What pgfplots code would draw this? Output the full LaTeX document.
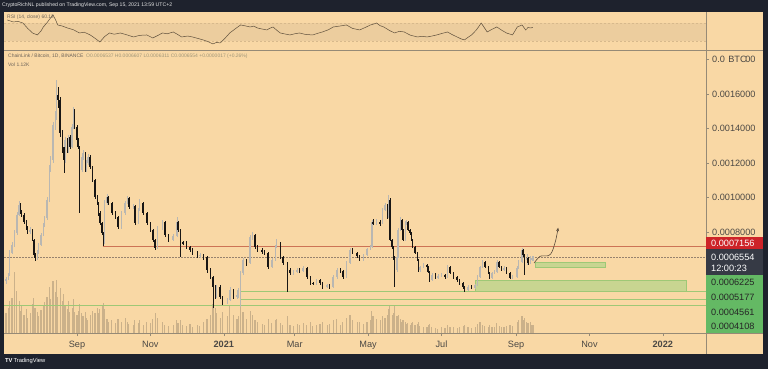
\documentclass[border=0pt]{standalone}
\usepackage{pgfplots}
\pgfplotsset{compat=1.18}
\usepackage{pgfplotstable}
\usepackage{fontspec}
\setmainfont{Liberation Sans}
\usetikzlibrary{arrows.meta}
\definecolor{tvdark}{RGB}{30,34,45}
\definecolor{bg}{RGB}{249,216,165}
\definecolor{band}{RGB}{236,205,158}
\definecolor{bandl}{RGB}{215,185,140}
\definecolor{sep}{RGB}{150,138,118}
\definecolor{upc}{RGB}{185,183,178}
\definecolor{dnc}{RGB}{25,22,20}
\definecolor{volc}{RGB}{203,177,138}
\definecolor{redl}{RGB}{205,115,85}
\definecolor{grl}{RGB}{158,200,118}
\definecolor{grf}{RGB}{200,213,145}
\definecolor{dashc}{RGB}{150,130,110}
\definecolor{lblred}{RGB}{205,35,40}
\definecolor{lbldark}{RGB}{54,58,69}
\definecolor{lblgreen}{RGB}{100,185,100}
\definecolor{labc}{RGB}{75,72,68}
\definecolor{rsic}{RGB}{95,80,60}
\definecolor{legc}{RGB}{110,100,90}
\definecolor{legv}{RGB}{160,150,120}
\definecolor{arrc}{RGB}{90,75,60}

\pgfplotstableread{
d o h l c v
-59 5.16 5.40 5.00 5.27 2.8
-57 5.27 5.62 5.20 5.51 3.5
-56 5.51 6.95 5.45 6.78 4.5
-54 6.78 7.40 6.70 7.25 5.0
-52 7.25 8.10 7.15 7.94 11.5
-50 7.94 9.15 7.85 8.99 6.0
-48 8.99 9.80 8.90 9.56 4.5
-47 9.56 9.70 9.05 9.16 3.2
-46 9.16 9.25 8.85 8.99 3.8
-44 8.99 9.10 8.45 8.58 2.6
-42 8.58 8.70 8.10 8.23 3.4
-41 8.23 8.35 7.90 8.00 2.2
-39 8.00 8.30 7.90 8.12 2.8
-37 8.12 8.20 7.45 7.54 4.2
-36 7.54 7.60 6.50 6.67 5.0
-35 6.67 6.80 6.30 6.49 3.6
-33 6.49 6.95 6.40 6.84 3.0
-32 6.84 7.35 6.75 7.25 2.4
-30 7.25 7.95 7.20 7.83 3.3
-28 7.83 8.55 7.75 8.41 3.8
-27 8.41 8.95 8.30 8.81 4.4
-25 8.81 10.00 8.70 9.86 5.2
-23 9.86 11.90 9.75 11.71 6.6
-22 11.71 12.40 11.50 12.17 4.8
-20 12.17 14.40 12.00 14.20 7.4
-18 14.20 15.00 13.90 14.67 5.8
-17 14.67 16.81 14.50 15.94 7.6
-16 15.94 16.40 15.20 15.65 5.2
-14 15.65 15.80 13.50 13.74 6.4
-12 13.74 13.90 12.60 12.93 4.6
-11 12.93 13.10 11.40 12.17 5.6
-10 12.17 13.50 12.00 13.33 4.0
-8 13.33 13.45 12.60 12.75 3.4
-7 12.75 13.65 12.60 13.51 4.6
-6 13.51 13.60 12.80 12.93 3.0
-4 12.93 14.25 12.85 14.09 3.6
-3 14.09 15.25 13.95 15.07 4.8
-2 15.07 15.15 13.95 14.09 3.0
0 14.09 14.20 13.20 13.33 2.6
1 13.33 13.45 12.80 12.93 3.2
2 12.93 13.00 9.10 11.59 4.2
4 11.59 12.50 11.45 12.35 2.8
5 12.35 12.75 12.20 12.58 2.4
7 12.58 12.65 11.45 11.59 3.0
8 11.59 12.15 11.50 12.00 2.2
9 12.00 12.50 11.90 12.35 1.8
11 12.35 12.45 11.65 11.77 2.6
13 11.77 11.85 10.90 11.01 3.2
15 11.01 11.10 9.90 10.03 2.8
17 10.03 10.15 9.55 9.68 3.6
18 9.68 9.75 8.95 9.10 2.8
19 9.10 9.20 8.40 8.52 3.4
21 8.52 8.60 7.80 7.94 3.8
22 7.94 8.00 7.16 7.36 4.3
23 7.36 9.85 7.30 9.68 3.4
25 9.68 10.20 9.55 10.03 2.0
26 10.03 10.10 9.55 9.68 1.6
29 9.68 9.75 9.00 9.10 1.8
32 9.10 9.20 8.75 8.87 1.4
34 8.87 8.95 8.15 8.29 2.0
37 8.29 9.20 8.20 9.10 1.6
40 9.10 9.80 9.00 9.68 2.2
42 9.68 10.10 9.60 9.97 1.5
43 9.97 10.05 9.35 9.45 1.3
47 9.45 9.65 9.35 9.50 1.2
48 9.50 9.55 8.40 8.52 1.9
51 8.52 9.40 8.45 9.27 1.4
52 9.27 9.90 9.20 9.68 1.8
55 9.68 9.75 9.00 9.10 1.2
58 9.10 9.15 8.40 8.52 1.6
61 8.52 8.60 8.00 8.12 1.4
63 8.12 8.20 7.40 7.54 2.0
65 7.54 7.60 6.95 7.07 2.9
67 7.07 8.35 7.00 8.23 2.2
71 8.23 8.70 8.10 8.58 1.5
73 8.58 8.65 7.70 7.83 1.2
76 7.83 7.90 7.40 7.54 1.0
80 7.54 7.90 7.45 7.77 1.2
83 7.77 8.87 7.70 8.58 1.8
84 8.58 8.65 8.00 8.12 1.4
86 8.12 8.20 6.55 7.42 1.9
88 7.42 7.50 7.25 7.36 1.1
91 7.36 7.45 7.00 7.13 1.0
94 7.13 7.20 6.85 6.96 1.3
96 6.96 7.05 6.65 6.78 0.9
100 6.78 6.90 6.50 6.61 1.2
102 6.61 6.80 6.50 6.67 1.0
105 6.67 6.75 6.40 6.55 1.5
108 6.55 6.60 5.65 5.80 2.0
111 5.80 5.90 5.25 5.39 2.6
113 5.39 5.45 3.59 4.81 4.2
115 4.81 4.90 4.10 4.23 3.6
116 4.23 4.95 4.15 4.81 2.8
119 4.81 4.90 4.10 4.23 2.2
121 4.23 4.30 3.75 3.88 3.0
125 3.88 4.15 3.80 4.06 2.4
127 4.06 4.80 4.00 4.64 4.0
130 4.64 4.70 4.10 4.23 2.6
133 4.23 4.45 4.12 4.30 2.0
134 4.30 4.75 4.20 4.64 2.4
136 4.64 5.75 3.65 5.62 4.4
138 5.62 6.50 5.50 6.38 3.0
141 6.38 6.45 6.05 6.20 2.0
144 6.20 7.85 6.15 7.71 3.2
146 7.71 8.00 7.55 7.83 2.6
148 7.83 7.90 7.00 7.13 1.8
150 7.13 7.25 6.85 6.96 1.6
154 6.96 7.05 6.70 6.84 1.3
156 6.84 6.95 6.65 6.78 1.2
159 6.78 6.85 5.85 5.97 2.0
162 5.97 6.50 5.90 6.38 1.4
165 6.38 7.25 6.30 7.13 1.8
166 7.13 7.60 7.05 7.36 2.0
169 7.36 7.40 6.45 6.55 1.4
171 6.55 6.60 6.10 6.20 1.2
175 6.20 6.25 4.52 5.80 2.4
177 5.80 5.90 5.50 5.62 1.2
180 5.62 5.80 5.50 5.68 1.0
183 5.68 5.90 5.60 5.80 1.3
185 5.80 5.90 5.65 5.75 1.1
188 5.75 6.05 5.70 5.91 1.4
191 5.91 5.95 5.30 5.39 1.2
194 5.39 5.45 4.95 5.04 1.5
196 5.04 5.12 4.92 5.00 1.0
199 5.00 5.30 4.95 5.22 1.2
202 5.22 5.28 4.95 5.04 1.3
204 5.04 5.10 4.72 4.81 1.5
208 4.81 5.00 4.75 4.93 1.1
210 4.93 4.98 4.72 4.81 1.3
213 4.81 5.48 4.75 5.39 1.8
216 5.39 5.90 5.30 5.80 2.0
219 5.80 5.90 5.65 5.74 1.2
221 5.74 5.80 5.30 5.39 1.5
224 5.39 6.30 5.35 6.20 2.2
227 6.20 7.05 6.15 6.96 2.6
229 6.96 7.05 6.70 6.78 1.8
233 6.78 6.85 6.50 6.61 1.5
235 6.61 6.65 6.30 6.38 1.6
238 6.38 6.75 6.30 6.67 1.3
241 6.67 7.10 6.60 7.02 1.6
244 7.02 7.25 6.95 7.13 1.8
245 7.13 8.70 7.10 8.58 3.2
246 8.58 8.75 8.40 8.52 2.4
249 8.52 8.75 8.40 8.58 2.0
252 8.58 8.70 8.35 8.50 1.8
254 8.50 9.40 8.45 9.27 2.4
256 9.27 9.70 9.20 9.56 2.2
258 9.56 9.60 8.75 8.87 2.6
259 8.87 10.14 8.80 9.86 3.4
260 9.86 9.95 7.45 7.54 4.0
262 7.54 7.60 7.00 7.13 2.6
263 7.13 7.20 6.40 6.55 2.8
264 6.55 6.60 4.81 5.80 3.8
266 5.80 6.65 5.70 6.55 2.4
267 6.55 8.25 6.50 8.12 2.6
269 8.12 8.85 8.05 8.70 2.0
270 8.70 8.75 8.00 8.12 1.6
271 8.12 8.20 7.45 7.54 1.8
273 7.54 8.65 7.50 8.52 1.6
274 8.52 8.70 8.40 8.58 1.3
275 8.58 8.65 8.05 8.12 1.4
277 8.12 8.20 7.85 7.94 1.2
278 7.94 8.00 7.45 7.54 1.4
279 7.54 7.60 7.05 7.13 1.5
281 7.13 7.20 6.70 6.78 1.2
283 6.78 6.85 6.30 6.38 1.3
284 6.38 6.45 5.70 5.80 1.6
285 5.80 6.05 5.70 5.97 1.0
288 5.97 6.20 5.90 6.09 0.8
291 6.09 6.15 5.85 5.97 0.9
292 5.97 6.00 5.60 5.68 1.1
293 5.68 5.75 5.10 5.22 1.3
295 5.22 5.60 5.15 5.51 0.9
298 5.51 5.60 5.30 5.39 0.7
300 5.39 5.55 5.30 5.45 0.6
303 5.45 5.60 5.38 5.51 0.8
306 5.51 5.58 5.30 5.39 0.7
308 5.39 6.09 5.35 5.97 1.2
310 5.97 6.00 5.55 5.62 0.9
313 5.62 5.68 5.30 5.39 0.8
316 5.39 5.45 5.12 5.22 0.7
318 5.22 5.28 4.95 5.04 0.8
321 5.04 5.10 4.72 4.81 1.0
322 4.81 4.85 4.55 4.64 1.1
325 4.64 4.90 4.58 4.81 0.9
328 4.81 4.90 4.68 4.75 0.7
331 4.75 5.00 4.70 4.93 0.9
333 4.93 5.48 4.88 5.39 1.3
335 5.39 6.05 5.35 5.97 1.5
337 5.97 6.40 5.90 6.26 1.2
339 6.26 6.30 5.90 5.97 1.0
342 5.97 6.00 5.55 5.62 0.9
343 5.62 5.68 5.25 5.33 1.1
345 5.33 5.70 5.28 5.62 0.8
347 5.62 5.80 5.55 5.68 0.9
349 5.68 6.40 5.62 6.26 1.4
351 6.26 6.30 5.90 5.97 1.0
353 5.97 6.02 5.72 5.80 0.9
355 5.80 6.00 5.75 5.91 0.8
357 5.91 5.95 5.55 5.62 1.0
360 5.62 5.68 5.25 5.33 1.2
362 5.33 5.48 5.28 5.39 1.0
366 5.39 6.00 5.35 5.91 1.6
367 5.91 6.35 5.85 6.26 1.8
370 6.26 7.07 6.20 6.96 2.4
371 6.96 7.02 6.55 6.67 1.9
372 6.67 6.72 5.51 6.38 2.2
374 6.38 6.75 6.10 6.45 1.6
375 6.45 6.55 6.10 6.20 1.4
377 6.20 6.60 6.15 6.38 1.5
378 6.38 6.62 6.30 6.49 1.2
379 6.537 6.607 6.311 6.554 1.12
}\candles

\pgfplotstableread{
d r
-58 76.7
-55 74.0
-53 72.2
-49 73.5
-45 70
-41 58.0
-37 47.8
-33 43.4
-30 52.0
-28 61.1
-25 70.5
-22 81.1
-20 87.8
-18 78.0
-16 65.6
-12 63.0
-8 58.9
-3 55.0
2 47.8
6 49.5
11 43.4
15 36.0
19 27.8
23 40.0
27 47.8
31 45.0
36 47.8
41 44.0
47 38.9
52 42.5
58 43.4
63 36.7
67 42.0
71 47.8
75 46.0
80 50
84 44.0
87 38.9
92 41.0
96 38.9
100 36.0
105 32.3
109 28.5
113 23.4
116 27.0
119 25.6
123 36.0
127 47.8
132 58.0
136 65.6
140 63.5
144 61.1
147 63.0
150 58.9
154 56.5
158 54.5
160 58.0
163 61.1
166 54.0
169 47.8
173 45.5
177 43.4
181 46.0
185 47.8
190 44.5
196 43.4
200 47.0
204 50
209 55.0
213 61.1
218 63.0
224 65.6
229 58.0
235 54.5
240 60.5
244 65.6
247 68.0
249 70
252 64.0
255 61.1
260 53.0
264 47.8
268 51.5
272 50
277 43.0
283 38.9
287 40.5
291 38.9
295 41.0
299 43.4
303 46.5
308 50
312 44.0
316 38.9
319 35.0
322 32.3
325 38.0
328 43.4
332 54.5
334 62.0
336 70
338 62.0
341 50
345 56.0
349 61.1
353 54.0
357 47.8
362 43.4
364 52.0
366 61.1
370 65.6
373 54.5
375 60.0
377 58.9
379 60.12
}\rsi

\newcommand{\axf}{\fontsize{9.2}{11}\selectfont}
\begin{document}
\begin{tikzpicture}
\useasboundingbox (0,0) rectangle (768bp,369bp);
\fill[tvdark] (0,0) rectangle (768bp,369bp);
\fill[bg] (4bp,15bp) rectangle (763bp,357bp);

% volume
\begin{axis}[at={(4bp,36bp)}, anchor=south west, scale only axis,
  width=702bp, height=60bp, xmin=-60.7, xmax=522.9, ymin=0, ymax=8.57,
  hide axis, clip=true]
\addplot[ycomb, draw=volc, line width=1.2bp, mark=none] table[x=d, y=v] {\candles};
\end{axis}

% price
\begin{axis}[at={(4bp,36bp)}, anchor=south west, scale only axis,
  width=702bp, height=283bp, xmin=-60.7, xmax=522.9, ymin=2.145, ymax=18.55,
  axis line style={draw=none},
  xtick={0,61,122,181,242,303,365,426,487},
  xticklabels={Sep,Nov,\textbf{2021},Mar,May,Jul,Sep,Nov,\textbf{2022}},
  ytick={8,10,12,14,16,18},
  yticklabels={0.0008000,0.0010000,0.0012000,0.0014000,0.0016000,{0.0\hphantom{0180}00}},
  xtick pos=left, ytick pos=right, yticklabel pos=right,
  tick align=outside, major tick length=3bp,
  tick style={draw=sep, line width=0.5bp},
  /pgf/number format/assume math mode=true,
  xticklabel style={font=\axf, text=labc, anchor=base, yshift=-11.5bp},
  yticklabel style={font=\axf, text=labc, anchor=west, inner sep=0pt, xshift=3bp},
  clip=true]
\fill[grf, draw=grl, line width=0.5bp] (axis cs:330.9,4.561) rectangle (axis cs:506.3,5.177);
\fill[grf, draw=grl, line width=0.5bp] (axis cs:380.7,5.935) rectangle (axis cs:438.9,6.225);
\addplot[grl, line width=0.6bp, mark=none] coordinates {(135.5,4.561) (522.9,4.561)};
\addplot[grl, line width=0.6bp, mark=none] coordinates {(135.5,4.108) (522.9,4.108)};
\addplot[grl, line width=0.6bp, mark=none] coordinates {(-60.7,3.77) (522.9,3.77)};
\addplot[redl, line width=0.7bp, mark=none] coordinates {(21.6,7.156) (522.9,7.156)};
\addplot[dashc, line width=0.5bp, dash pattern=on 1.5bp off 1.5bp, mark=none] coordinates {(-60.7,6.554) (522.9,6.554)};
% wicks
\addplot[draw=none, mark=none, restrict expr to domain={\thisrow{c}-\thisrow{o}}{0:100},
  error bars/.cd, y dir=both, y explicit, error mark=none,
  error bar style={draw=upc, line width=0.4bp}]
  table[x=d, y expr={(\thisrow{h}+\thisrow{l})/2}, y error expr={(\thisrow{h}-\thisrow{l})/2}] {\candles};
\addplot[draw=none, mark=none, restrict expr to domain={\thisrow{c}-\thisrow{o}}{-100:-0.00001},
  error bars/.cd, y dir=both, y explicit, error mark=none,
  error bar style={draw=dnc, line width=0.4bp}]
  table[x=d, y expr={(\thisrow{h}+\thisrow{l})/2}, y error expr={(\thisrow{h}-\thisrow{l})/2}] {\candles};
% bodies
\addplot[draw=none, mark=none, restrict expr to domain={\thisrow{c}-\thisrow{o}}{0:100},
  error bars/.cd, y dir=both, y explicit, error mark=none,
  error bar style={draw=upc, line width=1.6bp}]
  table[x=d, y expr={(\thisrow{o}+\thisrow{c})/2}, y error expr={abs(\thisrow{c}-\thisrow{o})/2+0.02}] {\candles};
\addplot[draw=none, mark=none, restrict expr to domain={\thisrow{c}-\thisrow{o}}{-100:-0.00001},
  error bars/.cd, y dir=both, y explicit, error mark=none,
  error bar style={draw=dnc, line width=1.6bp}]
  table[x=d, y expr={(\thisrow{o}+\thisrow{c})/2}, y error expr={abs(\thisrow{c}-\thisrow{o})/2+0.02}] {\candles};
% projection arrow
\addplot[arrc, line width=0.6bp, smooth, mark=none, -{Stealth[length=3.5bp,width=3bp]}]
  coordinates {(380,6.20) (385,6.59) (392,6.63) (395,6.87) (398,7.53) (400,8.25)};
\end{axis}

% RSI
\begin{axis}[at={(4bp,319bp)}, anchor=south west, scale only axis,
  width=702bp, height=38bp, xmin=-60.7, xmax=522.9, ymin=10, ymax=94.4,
  hide axis, clip=true]
\fill[band] (axis cs:-60.7,30) rectangle (axis cs:522.9,70);
\draw[bandl, dash pattern=on 2bp off 2bp, line width=0.4bp] (axis cs:-60.7,70) -- (axis cs:522.9,70);
\draw[bandl, dash pattern=on 2bp off 2bp, line width=0.4bp] (axis cs:-60.7,30) -- (axis cs:522.9,30);
\addplot[rsic, line width=0.5bp, mark=none] table[x=d, y=r] {\rsi};
\end{axis}

% separators
\draw[sep, line width=0.6bp] (4bp,319bp) -- (763bp,319bp);
\draw[sep, line width=0.6bp] (4bp,36bp) -- (763bp,36bp);
\draw[sep, line width=0.6bp] (706bp,15bp) -- (706bp,357bp);

% currency tag inside the top price label
\node[inner sep=0pt, font=\axf, text=labc] at (737.5bp,309.5bp) {BTC};

% right price labels
\fill[lblred] (706bp,120bp) rectangle (763bp,132bp);
\fill[lbldark] (706bp,94bp) rectangle (763bp,120bp);
\fill[lblgreen] (706bp,36bp) rectangle (763bp,94bp);
\begin{scope}[every node/.style={anchor=west, inner sep=0pt, font=\axf}]
\node[text=white] at (711bp,126bp) {0.0007156};
\node[text=white] at (711bp,112bp) {0.0006554};
\node[text=white] at (711bp,101bp) {12:00:23};
\node[text=black!85] at (711bp,87bp) {0.0006225};
\node[text=black!85] at (711bp,72bp) {0.0005177};
\node[text=black!85] at (711bp,57bp) {0.0004561};
\node[text=black!85] at (711bp,43bp) {0.0004108};
\end{scope}

% texts
\node[anchor=west, inner sep=0pt, text=white!80!gray, font=\fontsize{5.2}{6}\selectfont] at (2bp,364bp) {CryptoRichNL published on TradingView.com, Sep 15, 2021 13:59 UTC+2};
\node[anchor=west, inner sep=0pt, text=legc, font=\fontsize{5}{6}\selectfont] at (7bp,352bp) {RSI (14, close) 60.12};
\node[anchor=west, inner sep=0pt, text=legc, font=\fontsize{5}{6}\selectfont] at (8bp,313bp) {ChainLink / Bitcoin, 1D, BINANCE};
\node[anchor=west, inner sep=0pt, text=legv, font=\fontsize{5}{6}\selectfont] at (86bp,313bp) {O0.0006537 H0.0006607 L0.0006311 C0.0006554 +0.0000017 (+0.26\%)};
\node[anchor=west, inner sep=0pt, text=legc, font=\fontsize{5}{6}\selectfont] at (8bp,304bp) {Vol 1.12K};
\node[anchor=west, inner sep=0pt, text=white, font=\fontsize{5.8}{7}\selectfont] at (5bp,8bp) {\textbf{TV}\,TradingView};
\end{tikzpicture}
\end{document}
